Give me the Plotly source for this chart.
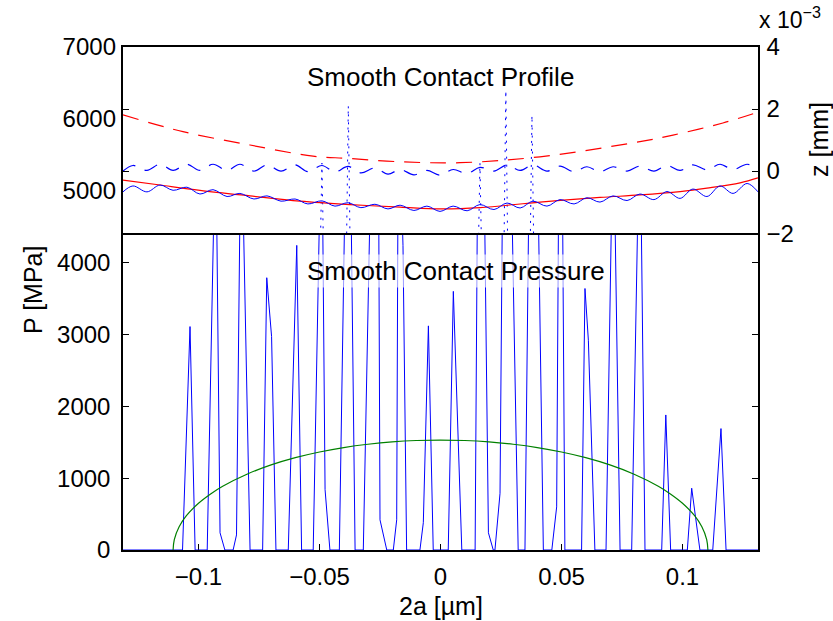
import plotly.graph_objects as go

# ---------------- data ----------------
# Pressure panel: rough-contact pressure spikes [MPa]
press_x = [-0.1312,
           -0.1066, -0.1035, -0.1014,
           -0.0964, -0.0929, -0.0911, -0.0891,
           -0.0857, -0.0843, -0.0824, -0.0787,
           -0.0735, -0.0718, -0.0698, -0.0680,
           -0.0629, -0.0594, -0.0574,
           -0.0526, -0.0491, -0.0477, -0.0457,
           -0.0418, -0.0388, -0.0374, -0.0353,
           -0.0319, -0.0284, -0.0257, -0.0250, -0.0222,
           -0.0195, -0.0181, -0.0174, -0.0155, -0.0140,
           -0.0085, -0.0071, -0.0050, -0.0030,
           0.0032, 0.0053, 0.0088,
           0.0143, 0.0156, 0.0177, 0.0198, 0.0218,
           0.0225, 0.0246, 0.0260, 0.0287, 0.0321,
           0.0349, 0.0370, 0.0398, 0.0425,
           0.0460, 0.0480, 0.0491, 0.0502, 0.0514,
           0.0583, 0.0597, 0.0611, 0.0638,
           0.0684, 0.0714, 0.0742,
           0.0790, 0.0824, 0.0845,
           0.0914, 0.0931, 0.0951,
           0.1020, 0.1038, 0.1072,
           0.1125, 0.1159, 0.1180,
           0.1312]
press_p = [0,
           0, 3110, 0,
           0, 6000, 240, 0,
           0, 210, 6200, 0,
           0, 3790, 2970, 0,
           0, 4240, 0,
           0, 6300, 840, 0,
           0, 6400, 6100, 0,
           0, 6000, 6200, 420, 0,
           0, 420, 6500, 4240, 0,
           0, 380, 3120, 0,
           0, 3600, 0,
           0, 6600, 6200, 240, 0,
           0, 790, 6500, 6300, 0,
           0, 6400, 6200, 0,
           0, 600, 6500, 6000, 0,
           0, 3640, 2920, 0,
           0, 6200, 0,
           0, 6300, 0,
           0, 1880, 0,
           0, 860, 0,
           0, 1690, 0,
           0]

# Smooth (Hertzian) contact pressure [MPa]
hertz_x = [-0.1105, -0.110, -0.108, -0.105, -0.100, -0.095, -0.090, -0.080, -0.070,
           -0.060, -0.050, -0.040, -0.030, -0.020, -0.010, 0.0,
           0.010, 0.020, 0.030, 0.040, 0.050, 0.060, 0.070, 0.080, 0.090,
           0.095, 0.100, 0.105, 0.108, 0.110, 0.1105]
hertz_p = [0, 145, 323, 477, 651, 781, 888, 1055, 1184,
           1285, 1364, 1426, 1472, 1505, 1524, 1530,
           1524, 1505, 1472, 1426, 1364, 1285, 1184, 1055, 888,
           781, 651, 477, 323, 145, 0]

# Profile panel [mm x 1e-3]
smooth_x = [-0.1312, -0.1159, -0.0994, -0.0787, -0.0581, -0.0374, -0.0167, -0.0002,
            0.0163, 0.0411, 0.0659, 0.0824, 0.0990, 0.1101, 0.1238, 0.1312]
smooth_z = [-0.29, -0.45, -0.62, -0.80, -0.97, -1.08, -1.16, -1.22,
            -1.18, -1.00, -0.85, -0.77, -0.66, -0.55, -0.38, -0.22]

smooth_def_x = [-0.1312, -0.1064, -0.0787, -0.0527, -0.0386, -0.0167, 0.0081,
                0.0411, 0.0824, 0.0961, 0.1167, 0.1312]
smooth_def_z = [1.81, 1.27, 0.84, 0.48, 0.41, 0.30, 0.27,
                0.46, 0.95, 1.16, 1.55, 1.90]

rough_x = [-0.1312, -0.1271, -0.1213, -0.1159, -0.1105, -0.1048, -0.0994, -0.0940,
           -0.0882, -0.0829, -0.0771, -0.0717, -0.0659, -0.0601, -0.0548, -0.0490,
           -0.0436, -0.0382, -0.0329, -0.0271, -0.0217, -0.0167, -0.0110, -0.0056,
           -0.0002, 0.0052, 0.0110, 0.0163, 0.0221, 0.0275, 0.0329, 0.0382,
           0.0440, 0.0494, 0.0552, 0.0605, 0.0659, 0.0713, 0.0771, 0.0824,
           0.0882, 0.0936, 0.0990, 0.1043, 0.1101, 0.1155, 0.1209, 0.1267, 0.1312]
rough_z = [-0.67, -0.48, -0.67, -0.45, -0.62, -0.52, -0.74, -0.60, -0.82, -0.72,
           -0.90, -0.80, -0.97, -0.90, -1.06, -0.96, -1.13, -1.02, -1.18, -1.07,
           -1.22, -1.10, -1.27, -1.13, -1.30, -1.13, -1.28, -1.08, -1.24, -1.03,
           -1.19, -0.97, -1.13, -0.92, -1.06, -0.86, -1.00, -0.80, -0.95, -0.74,
           -0.92, -0.66, -0.88, -0.58, -0.82, -0.48, -0.72, -0.40, -0.67]
rough_def_z = [0.00, 0.18, 0.02, 0.22, 0.02, 0.22, 0.02, 0.22, 0.02, 0.22,
               0.00, 0.20, 0.00, 0.20, -0.02, 0.18, -0.03, 0.15, -0.06, 0.10,
               -0.10, 0.05, -0.12, 0.02, -0.13, 0.05, -0.08, 0.12, 0.00, 0.20,
               0.02, 0.20, 0.00, 0.16, -0.02, 0.14, -0.02, 0.14, 0.00, 0.16,
               0.00, 0.18, 0.02, 0.20, 0.04, 0.22, 0.05, 0.22, 0.08]

gap_x = [-0.1312, -0.0500, -0.0490, -0.0480, -0.0391, -0.0381, -0.0371,
         0.0153, 0.0163, 0.0173, 0.0260, 0.0270, 0.0280, 0.0368, 0.0378, 0.0388, 0.1312]
gap_z = [-4, -4, 0.26, -4, -4, 2.1, -4, -4, 0.26, -4, -4, 2.6, -4, -4, 1.8, -4, -4]

x_ticks = [-0.1, -0.05, 0, 0.05, 0.1]
x_ticktext = ["\u22120.1", "\u22120.05", "0", "0.05", "0.1"]
p_ticks_low = [0, 1000, 2000, 3000, 4000]
p_ticks_high = [5000, 6000, 7000]
z_ticks = [-2, 0, 2, 4]
z_ticktext = ["\u22122", "0", "2", "4"]

X_RANGE = [-0.1312, 0.1312]
P_SPLIT = 4411
# ------------------------------------------------------------------------

BLUE = "rgb(0,0,255)"
RED = "rgb(255,0,0)"
GREEN = "rgb(0,128,0)"
FONT = "Liberation Sans, Arial, Helvetica, sans-serif"

fig = go.Figure()

fig.add_trace(go.Scatter(x=press_x, y=press_p, mode="lines",
                         line=dict(color=BLUE, width=1), xaxis="x", yaxis="y"))
fig.add_trace(go.Scatter(x=hertz_x, y=hertz_p, mode="lines",
                         line=dict(color=GREEN, width=1.2, shape="spline"), xaxis="x", yaxis="y"))

fig.add_trace(go.Scatter(x=gap_x, y=gap_z, mode="lines",
                         line=dict(color=BLUE, width=1, dash="2px,6px"), xaxis="x2", yaxis="y2"))
fig.add_trace(go.Scatter(x=smooth_x, y=smooth_z, mode="lines",
                         line=dict(color=RED, width=1.2, shape="spline"), xaxis="x2", yaxis="y2"))
fig.add_trace(go.Scatter(x=rough_x, y=rough_z, mode="lines",
                         line=dict(color=BLUE, width=1, shape="spline"), xaxis="x2", yaxis="y2"))
fig.add_trace(go.Scatter(x=smooth_def_x, y=smooth_def_z, mode="lines",
                         line=dict(color=RED, width=1.2, dash="16px,10px", shape="spline"),
                         xaxis="x2", yaxis="y2"))
fig.add_trace(go.Scatter(x=rough_x, y=rough_def_z, mode="lines",
                         line=dict(color=BLUE, width=1.2, dash="14px,10px", shape="spline"),
                         xaxis="x2", yaxis="y2"))
fig.add_trace(go.Scatter(x=[X_RANGE[0]], y=[P_SPLIT], mode="markers", marker=dict(opacity=0),
                         xaxis="x2", yaxis="y3", hoverinfo="skip"))

common = dict(showgrid=False, zeroline=False, linecolor="black", linewidth=1.5,
              tickcolor="black", ticklen=6, tickwidth=1, showline=True)

dom_split = 0.63
TICKFONT = dict(size=24)

fig.update_layout(
    width=833, height=621,
    margin=dict(l=123, r=75, t=47, b=71),
    paper_bgcolor="white", plot_bgcolor="white",
    showlegend=False,
    font=dict(family=FONT, size=24, color="black"),
    xaxis=dict(domain=[0, 1], anchor="y", range=X_RANGE, ticks="inside",
               tickvals=x_ticks, ticktext=x_ticktext, mirror=False,
               tickfont=TICKFONT, ticklabelstandoff=4, layer="below traces", **common),
    yaxis=dict(domain=[0, dom_split], anchor="x", range=[0, P_SPLIT], ticks="inside",
               tickvals=p_ticks_low, ticktext=[str(v) for v in p_ticks_low],
               mirror="ticks", tickfont=TICKFONT, ticklabelstandoff=6, **common),
    xaxis2=dict(domain=[0, 1], anchor="y2", range=X_RANGE, ticks="",
                showticklabels=False, mirror=True, **common),
    yaxis2=dict(domain=[dom_split, 1], anchor="x2", range=[-2, 4], side="right",
                ticks="inside", tickvals=z_ticks, ticktext=z_ticktext,
                mirror="ticks", tickfont=TICKFONT, ticklabelstandoff=2, **common),
    yaxis3=dict(overlaying="y2", anchor="x2", side="left", range=[P_SPLIT, 7000],
                tickvals=p_ticks_high, ticktext=[str(v) for v in p_ticks_high],
                tickfont=TICKFONT, ticklabelstandoff=6,
                showgrid=False, zeroline=False, showline=False, ticks=""),
)

fig.add_annotation(text="Smooth Contact Profile", xref="x2", yref="paper",
                   x=-0.0560, y=(550 - 77) / 503, xanchor="left", yanchor="middle",
                   showarrow=False, font=dict(size=26))
fig.add_annotation(text="Smooth Contact Pressure", xref="x", yref="paper",
                   x=-0.0560, y=(550 - 271) / 503, xanchor="left", yanchor="middle",
                   showarrow=False, font=dict(size=26), bgcolor="rgba(255,255,255,0.6)")
fig.add_annotation(text="P [MPa]", xref="paper", yref="paper",
                   x=(33 - 123) / 635, y=(550 - 290) / 503, textangle=-90,
                   xanchor="center", yanchor="middle", showarrow=False,
                   font=dict(size=25))
fig.add_annotation(text="z [mm]", xref="paper", yref="paper",
                   x=(819 - 123) / 635, y=(550 - 140) / 503, textangle=-90,
                   xanchor="center", yanchor="middle", showarrow=False,
                   font=dict(size=25))
fig.add_annotation(text="2a [\u00b5m]", xref="paper", yref="paper",
                   x=0.5, y=(550 - 606) / 503, xanchor="center", yanchor="middle",
                   showarrow=False, font=dict(size=25))
fig.add_annotation(text="x 10<sup>\u22123</sup>", xref="paper", yref="paper",
                   x=(757 - 123) / 635, y=(550 - 18) / 503, xanchor="left", yanchor="middle",
                   showarrow=False, font=dict(size=23))

fig.write_html("out.html")
